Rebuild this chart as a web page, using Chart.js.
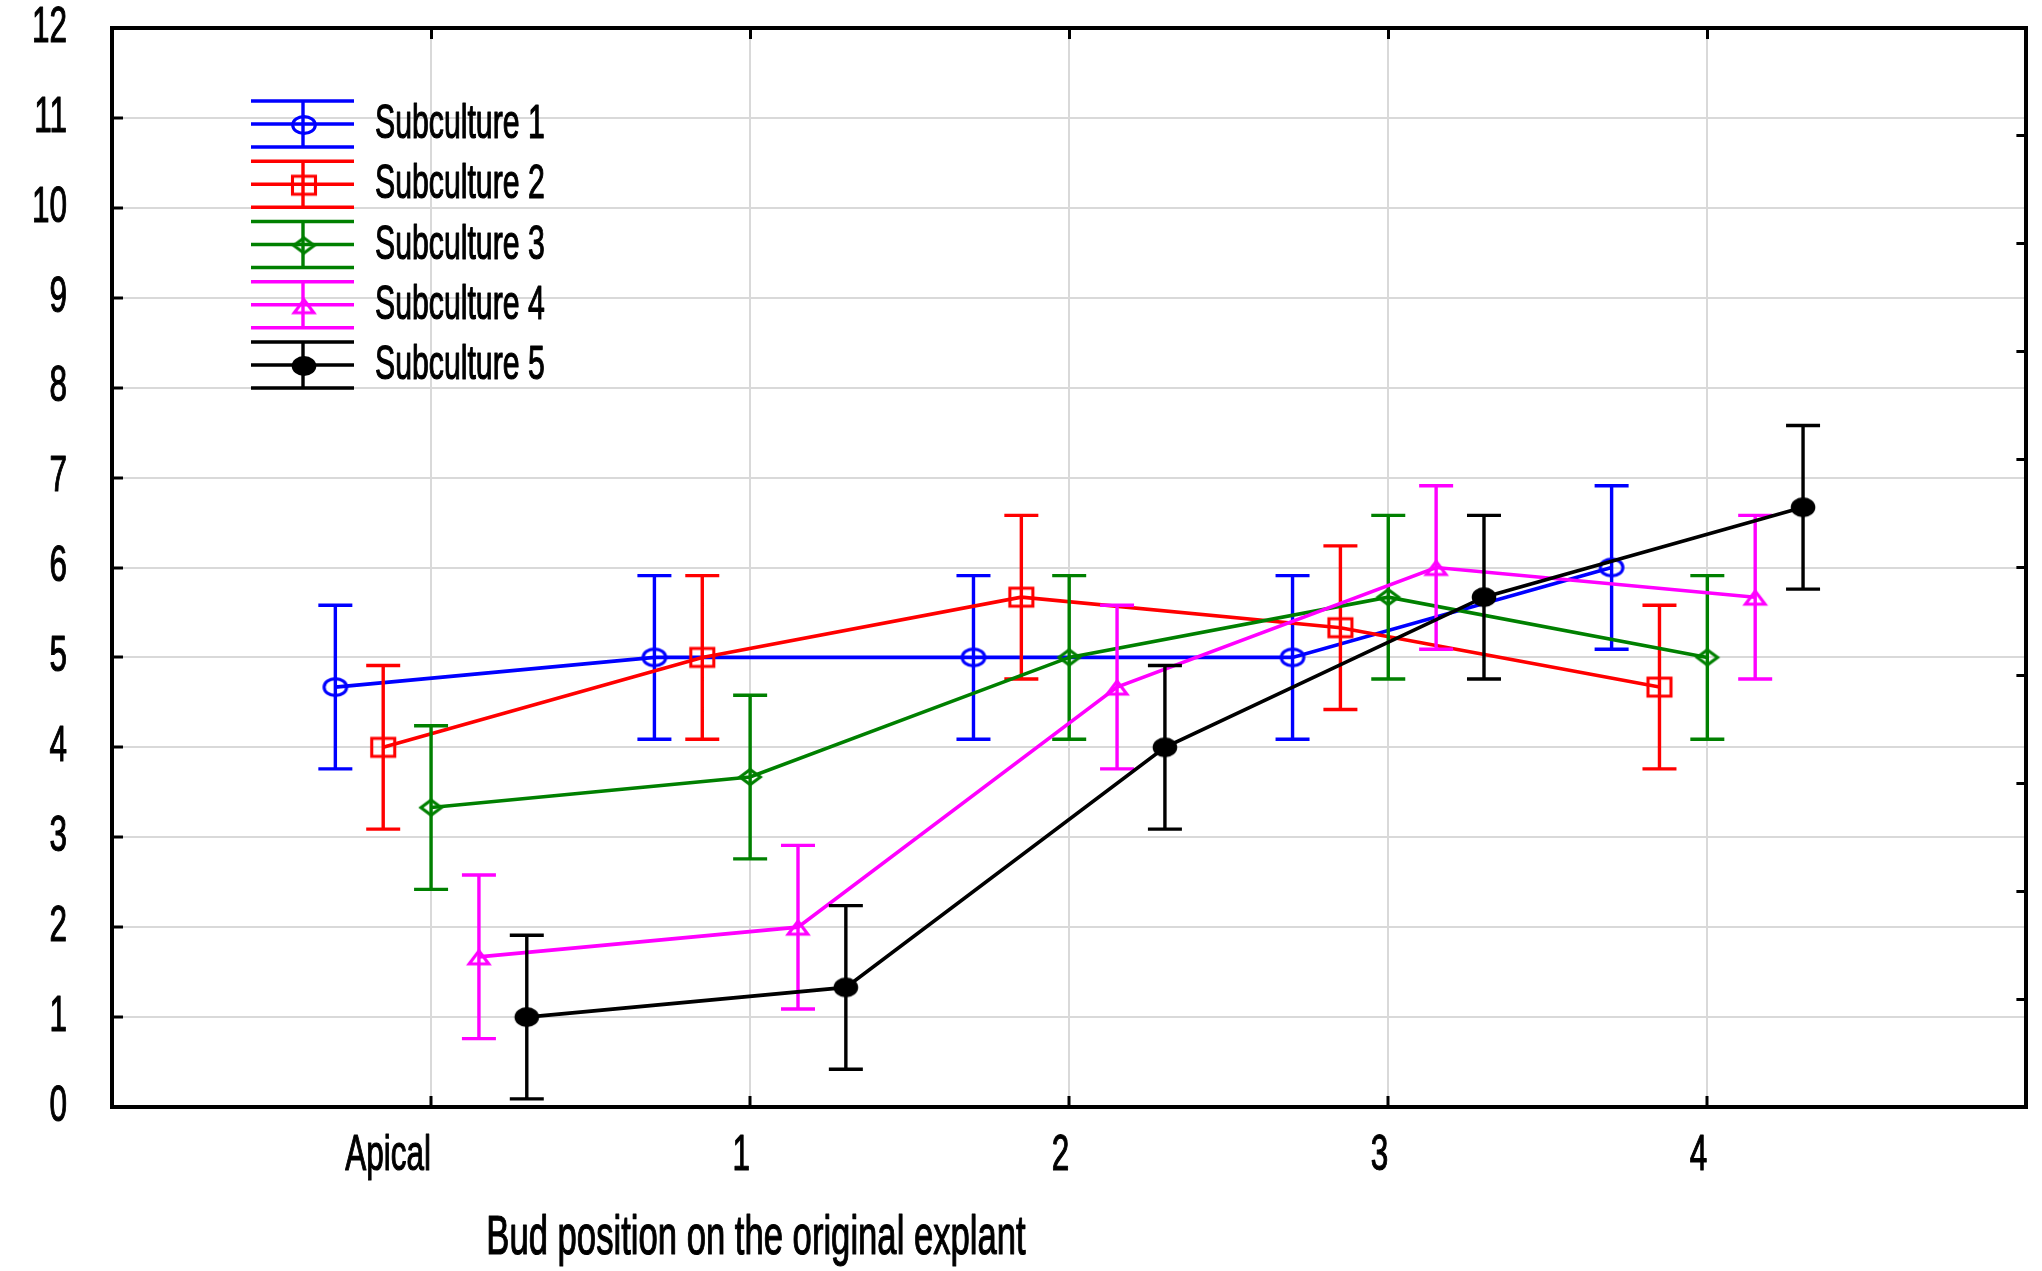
<!DOCTYPE html>
<html>
<head>
<meta charset="utf-8">
<script src="https://cdn.jsdelivr.net/npm/chart.js@4.4.1/dist/chart.umd.min.js"></script>
<style>
  html, body { margin: 0; padding: 0; background: #ffffff; }
  canvas { display: block; }
</style>
</head>
<body>
<canvas id="chart" width="2042" height="1271"></canvas>
<script>
// ---------------- data ----------------
const categories = ['Apical', '1', '2', '3', '4'];
const seriesNames = ['Subculture 1', 'Subculture 2', 'Subculture 3', 'Subculture 4', 'Subculture 5'];

const sub1Means = [4.67, 5.00, 5.00, 5.00, 6.00];
const sub2Means = [4.00, 5.00, 5.67, 5.33, 4.67];
const sub3Means = [3.33, 3.67, 5.00, 5.67, 5.00];
const sub4Means = [1.67, 2.00, 4.67, 6.00, 5.67];
const sub5Means = [1.00, 1.33, 4.00, 5.67, 6.67];

const sub1Err = [0.91, 0.91, 0.91, 0.91, 0.91];
const sub2Err = [0.91, 0.91, 0.91, 0.91, 0.91];
const sub3Err = [0.91, 0.91, 0.91, 0.91, 0.91];
const sub4Err = [0.91, 0.91, 0.91, 0.91, 0.91];
const sub5Err = [0.91, 0.91, 0.91, 0.91, 0.91];

const yMin = 0, yMax = 12, yStep = 1;
const xAxisTitle = 'Bud position on the original explant';

// ---------------- styles ----------------
const FONT = '"Liberation Sans", Arial, sans-serif';
const TEXT_SX = 0.63;           // condensed text look
const DODGE = 0.15;             // horizontal offset between series (category units)
const colors = ['#0000ff', '#ff0000', '#008000', '#ff00ff', '#000000'];
const markerKinds = ['ellipse', 'square', 'diamond', 'triangle', 'dot'];

function makeMarker(kind, color) {
  const c = document.createElement('canvas');
  c.width = 32; c.height = 28;
  const g = c.getContext('2d');
  g.translate(16, 14);
  g.strokeStyle = color; g.fillStyle = color; g.lineWidth = 3.1;
  g.beginPath();
  if (kind === 'ellipse') { g.ellipse(0, 0, 11.3, 8.4, 0, 0, Math.PI * 2); g.stroke(); }
  else if (kind === 'dot') { g.ellipse(0, 0, 12.3, 10, 0, 0, Math.PI * 2); g.fill(); }
  else if (kind === 'square') { g.rect(-11.5, -9, 23, 18); g.stroke(); }
  else if (kind === 'diamond') { g.moveTo(0, -7.6); g.lineTo(10.2, 0); g.lineTo(0, 7.6); g.lineTo(-10.2, 0); g.closePath(); g.stroke(); }
  else if (kind === 'triangle') { g.moveTo(0, -6); g.lineTo(9.8, 7); g.lineTo(-9.8, 7); g.closePath(); g.stroke(); }
  return c;
}

const allMeans = [sub1Means, sub2Means, sub3Means, sub4Means, sub5Means];
const allErrs = [sub1Err, sub2Err, sub3Err, sub4Err, sub5Err];

const datasets = allMeans.map((means, s) => ({
  label: seriesNames[s],
  data: means.map((m, i) => ({ x: i + (s - 2) * DODGE, y: m })),
  errors: allErrs[s],
  borderColor: colors[s],
  backgroundColor: colors[s],
  borderWidth: 3.6,
  pointStyle: makeMarker(markerKinds[s], colors[s]),
  pointRadius: 12,
  pointHoverRadius: 12,
  fill: false,
  tension: 0,
  order: -s
}));

// ---------------- plugins ----------------
const CAP = 17;
const errorBarPlugin = {
  id: 'errorBars',
  afterDatasetDraw(chart, args) {
    const ds = chart.data.datasets[args.index];
    const yScale = chart.scales.y;
    const ctx = chart.ctx;
    ctx.save();
    ctx.strokeStyle = ds.borderColor;
    ctx.lineWidth = 3.4;
    ctx.beginPath();
    args.meta.data.forEach((pt, i) => {
      const v = ds.data[i].y, e = ds.errors[i];
      const yt = yScale.getPixelForValue(v + e);
      const yb = yScale.getPixelForValue(v - e);
      const x = pt.x;
      ctx.moveTo(x, yt); ctx.lineTo(x, yb);
      ctx.moveTo(x - CAP, yt); ctx.lineTo(x + CAP, yt);
      ctx.moveTo(x - CAP, yb); ctx.lineTo(x + CAP, yb);
    });
    ctx.stroke();
    ctx.restore();
  }
};

const LEG = { x0: 251, x1: 354, stemX: 303, top: 124, step: 60.25, half: 23, textX: 375 };
const legendPlugin = {
  id: 'errLegend',
  afterDraw(chart) {
    const ctx = chart.ctx;
    chart.data.datasets.forEach((ds, i) => {
      const cy = LEG.top + i * LEG.step;
      ctx.save();
      ctx.strokeStyle = ds.borderColor;
      ctx.lineWidth = 3.4;
      ctx.beginPath();
      [-LEG.half, 0, LEG.half].forEach(dy => { ctx.moveTo(LEG.x0, cy + dy); ctx.lineTo(LEG.x1, cy + dy); });
      ctx.moveTo(LEG.stemX, cy - LEG.half); ctx.lineTo(LEG.stemX, cy + LEG.half);
      ctx.stroke();
      const m = ds.pointStyle;
      ctx.drawImage(m, LEG.stemX + 1 - m.width / 2, cy + 1 - m.height / 2);
      ctx.fillStyle = '#000';
      ctx.font = '48px ' + FONT;
      ctx.textAlign = 'left';
      ctx.textBaseline = 'middle';
      ctx.fillText(ds.label, LEG.textX, cy + 1);
      ctx.restore();
    });
  }
};

const axisTitlePlugin = {
  id: 'axisTitle',
  afterDraw(chart) {
    const ctx = chart.ctx;
    ctx.save();
    ctx.fillStyle = '#000';
    ctx.font = '55px ' + FONT;
    ctx.textAlign = 'center';
    ctx.textBaseline = 'alphabetic';
    ctx.fillText(xAxisTitle, 756, 1254);
    ctx.restore();
  }
};

// ---------------- condensed text rendering ----------------
const canvas = document.getElementById('chart');
const ctx = canvas.getContext('2d');
const origFill = ctx.fillText;
const origStroke = ctx.strokeText;
ctx.fillText = function (t, x, y) {
  this.save();
  this.translate(x, y);
  this.scale(TEXT_SX, 1);
  origFill.call(this, t, 0, 0);
  this.lineWidth = 1.2;
  this.lineJoin = 'round';
  this.strokeStyle = this.fillStyle;
  origStroke.call(this, t, 0, 0);
  this.restore();
};
const origMeasure = ctx.measureText;
ctx.measureText = function (t) {
  const m = origMeasure.call(this, t);
  return {
    width: m.width * TEXT_SX,
    actualBoundingBoxLeft: m.actualBoundingBoxLeft * TEXT_SX,
    actualBoundingBoxRight: m.actualBoundingBoxRight * TEXT_SX,
    actualBoundingBoxAscent: m.actualBoundingBoxAscent,
    actualBoundingBoxDescent: m.actualBoundingBoxDescent,
    fontBoundingBoxAscent: m.fontBoundingBoxAscent,
    fontBoundingBoxDescent: m.fontBoundingBoxDescent
  };
};

// ---------------- axes ----------------
const gridColor = '#d9d9d9';
const border = { display: true, color: '#000', width: 4 };
const catTicks = s => { s.ticks = categories.map((_, i) => ({ value: i })); };
const fixSize = (w, h) => s => {
  if (w !== null) s.width = w;
  if (h !== null) s.height = h;
  s.paddingLeft = 0; s.paddingRight = 0; s.paddingTop = 0; s.paddingBottom = 0;
};

new Chart(ctx, {
  type: 'line',
  data: { datasets },
  plugins: [errorBarPlugin, legendPlugin, axisTitlePlugin],
  options: {
    responsive: false,
    devicePixelRatio: 1,
    animation: false,
    events: [],
    layout: { padding: 0 },
    plugins: { legend: { display: false }, tooltip: { enabled: false }, title: { display: false } },
    scales: {
      x: {
        type: 'linear', position: 'bottom', min: -1, max: 5,
        afterBuildTicks: catTicks,
        afterFit: fixSize(null, 164),
        ticks: {
          callback: v => categories[v],
          align: 'end', padding: 30, maxRotation: 0, autoSkip: false,
          color: '#000', font: { family: FONT, size: 50 }
        },
        grid: { color: gridColor, lineWidth: 2, tickLength: -11, tickColor: '#000', tickWidth: 3 },
        border
      },
      x2: {
        type: 'linear', position: 'top', min: -1, max: 5,
        afterBuildTicks: catTicks,
        afterFit: fixSize(null, 28),
        ticks: { display: false },
        grid: { drawOnChartArea: false, tickLength: -11, tickColor: '#000', tickWidth: 3 },
        border
      },
      y: {
        type: 'linear', position: 'left', min: yMin, max: yMax,
        afterFit: fixSize(112, null),
        ticks: { stepSize: yStep, padding: 56, color: '#000', font: { family: FONT, size: 50 } },
        grid: { color: gridColor, lineWidth: 2, tickLength: -11, tickColor: '#000', tickWidth: 3 },
        border
      },
      y2: {
        type: 'linear', position: 'right', min: 0, max: 10,
        afterFit: fixSize(13, null),
        ticks: { stepSize: 1, display: false },
        grid: { drawOnChartArea: false, tickLength: -10, tickColor: '#000', tickWidth: 3 },
        border
      }
    }
  }
});
</script>
</body>
</html>
